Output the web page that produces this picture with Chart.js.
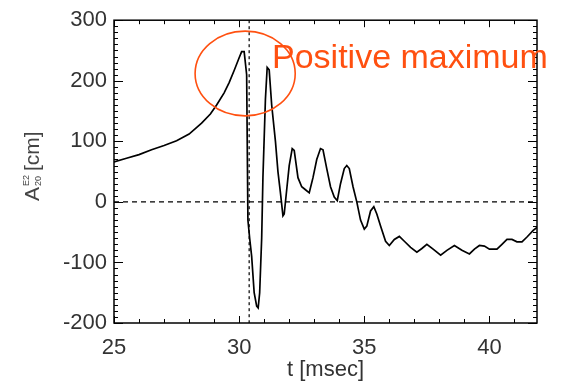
<!DOCTYPE html>
<html>
<head>
<meta charset="utf-8">
<script src="https://cdn.jsdelivr.net/npm/chart.js@4/dist/chart.umd.min.js"></script>
<style>
  html, body { margin: 0; padding: 0; background: #fff; }
  #wrap { width: 567px; height: 383px; }
</style>
</head>
<body>
<div id="wrap"><canvas id="myChart" width="567" height="383"></canvas></div>
<script>
// DATA

const timeMs = [
  25.0, 25.5, 26.0, 26.5, 27.0, 27.5, 28.0, 28.5, 28.85, 29.1, 29.4, 29.6, 29.8, 30.0, 30.1,
  30.2, 30.3,
  30.35, 30.42, 30.5, 30.6, 30.7, 30.76, 30.82, 30.9, 30.95, 31.05, 31.12, 31.2, 31.3, 31.45,
  31.55, 31.65, 31.75, 31.8, 31.9, 32.0, 32.12, 32.2, 32.35, 32.5, 32.65, 32.8, 32.95, 33.1,
  33.25, 33.35, 33.5, 33.65, 33.8, 33.92, 34.05, 34.2, 34.3, 34.4, 34.55, 34.7, 34.85, 35.0,
  35.1, 35.25, 35.38, 35.5, 35.65, 35.85, 36.0, 36.2, 36.4, 36.6, 36.85, 37.1, 37.3, 37.5,
  37.75, 38.05, 38.3, 38.6, 38.9, 39.2, 39.4, 39.6, 39.8, 40.0, 40.3, 40.5, 40.7, 40.9, 41.1,
  41.3, 41.5, 41.75, 41.9
];

const amplitude = [
  66, 72, 78, 86, 93, 101, 112, 130, 145, 160, 180, 197, 217, 238, 248,
  248, 210,
  -30, -60, -90, -150, -172, -175, -150, -60, 40, 170, 222, 218, 160, 100,
  50, 15, -23, -20, 20, 60, 88, 85, 40, 25, 20, 15, 40, 70,
  88, 86, 55, 25, 8, 2, 30, 55, 60, 55, 25, 0, -30, -45,
  -40, -15, -8, -20, -40, -65, -72, -62, -57, -65, -75, -83, -77, -70,
  -78, -88, -80, -72, -80, -86, -78, -72, -73, -78, -78, -70, -62, -62, -66,
  -66, -58, -47, -42
];

const xTicks = [25, 30, 35, 40];
const yTicks = [-200, -100, 0, 100, 200, 300];
const markerTime = 30.4;
const calloutText = "Positive maximum";
const calloutCenter = [30.24, 212];   // ellipse centre in data units
const calloutRadius = [2.0, 70];      // ellipse radius in data units

// FRAME, TICKS AND NOTES

const framePlugin = {
  id: 'frame',
  beforeDatasetsDraw(chart) {
    const { ctx, chartArea: a, scales: { x, y } } = chart;
    ctx.save();
    ctx.strokeStyle = '#000';
    ctx.lineWidth = 1.2;

    // dashed zero line
    ctx.setLineDash([5, 4]);
    ctx.beginPath();
    ctx.moveTo(a.left, y.getPixelForValue(0));
    ctx.lineTo(a.right, y.getPixelForValue(0));
    ctx.stroke();

    // dashed vertical marker
    ctx.setLineDash([3, 3]);
    ctx.beginPath();
    ctx.moveTo(x.getPixelForValue(markerTime), a.top);
    ctx.lineTo(x.getPixelForValue(markerTime), a.bottom);
    ctx.stroke();
    ctx.restore();
  },
  afterDraw(chart) {
    const { ctx, chartArea: a, scales: { x, y } } = chart;
    ctx.save();
    ctx.strokeStyle = '#000';
    ctx.lineWidth = 1.5;
    ctx.strokeRect(a.left, a.top, a.right - a.left, a.bottom - a.top);

    ctx.lineWidth = 1;
    ctx.beginPath();
    for (let t = 25; t <= 41.9; t += 1) {
      const px = Math.round(x.getPixelForValue(t)) + 0.5;
      const len = t % 5 === 0 ? 7 : 4;
      ctx.moveTo(px, a.bottom); ctx.lineTo(px, a.bottom - len);
      ctx.moveTo(px, a.top); ctx.lineTo(px, a.top + len);
    }
    for (let v = -200; v <= 300; v += 10) {
      const py = Math.round(y.getPixelForValue(v)) + 0.5;
      const len = v % 100 === 0 ? 9 : 4;
      ctx.moveTo(a.left, py); ctx.lineTo(a.left + len, py);
      ctx.moveTo(a.right, py); ctx.lineTo(a.right - len, py);
    }
    ctx.stroke();

    // orange ellipse and callout
    const cx = x.getPixelForValue(calloutCenter[0]);
    const cy = y.getPixelForValue(calloutCenter[1]);
    const rx = Math.abs(x.getPixelForValue(calloutCenter[0] + calloutRadius[0]) - cx);
    const ry = Math.abs(y.getPixelForValue(calloutCenter[1] + calloutRadius[1]) - cy);
    ctx.strokeStyle = '#ff5010';
    ctx.lineWidth = 1.6;
    ctx.beginPath();
    ctx.ellipse(cx, cy, rx, ry, 0, 0, Math.PI * 2);
    ctx.stroke();

    ctx.fillStyle = '#ff5010';
    ctx.font = '34px "Liberation Sans", Arial, sans-serif';
    ctx.textBaseline = 'alphabetic';
    ctx.fillText(calloutText, 272, 68);

    // y axis title: A with stacked E2 / 20, then [cm]
    ctx.translate(33, 201);
    ctx.rotate(-Math.PI / 2);
    ctx.fillStyle = '#444';
    ctx.textBaseline = 'middle';
    ctx.font = '21px "Liberation Sans", Arial, sans-serif';
    ctx.fillText('A', 0, 0);
    ctx.font = '9px "Liberation Sans", Arial, sans-serif';
    ctx.fillText('E2', 15, -6);
    ctx.fillText('20', 15, 6);
    ctx.font = '21px "Liberation Sans", Arial, sans-serif';
    ctx.fillText('[cm]', 30, 0);
    ctx.restore();
  }
};

const ctx = document.getElementById('myChart').getContext('2d');

new Chart(ctx, {
  type: 'line',
  data: {
    datasets: [{
      data: timeMs.map((t, i) => ({ x: t, y: amplitude[i] })),
      borderColor: '#000',
      borderWidth: 1.7,
      pointRadius: 0,
      tension: 0,
      fill: false
    }]
  },
  options: {
    responsive: false,
    animation: false,
    layout: { padding: { top: 14, right: 30, left: 0, bottom: 0 } },
    plugins: { legend: { display: false }, tooltip: { enabled: false } },
    scales: {
      x: {
        type: 'linear',
        min: 25,
        max: 41.9,
        afterBuildTicks: s => { s.ticks = xTicks.map(v => ({ value: v })); },
        afterFit: s => { s.height = 60; },
        grid: { display: false, drawTicks: false },
        border: { display: false },
        ticks: {
          color: '#333',
          padding: 12,
          font: { size: 22, family: '"Liberation Sans", Arial, sans-serif' }
        },
        title: {
          display: true,
          text: 't [msec]',
          color: '#333',
          padding: { top: 0, bottom: 0 },
          font: { size: 22, family: '"Liberation Sans", Arial, sans-serif' }
        }
      },
      y: {
        min: -200,
        max: 300,
        afterBuildTicks: s => { s.ticks = yTicks.map(v => ({ value: v })); },
        afterFit: s => { s.width = 114; },
        grid: { display: false, drawTicks: false },
        border: { display: false },
        ticks: {
          color: '#333',
          padding: 7,
          font: { size: 22, family: '"Liberation Sans", Arial, sans-serif' }
        }
      }
    }
  },
  plugins: [framePlugin]
});
</script>
</body>
</html>
